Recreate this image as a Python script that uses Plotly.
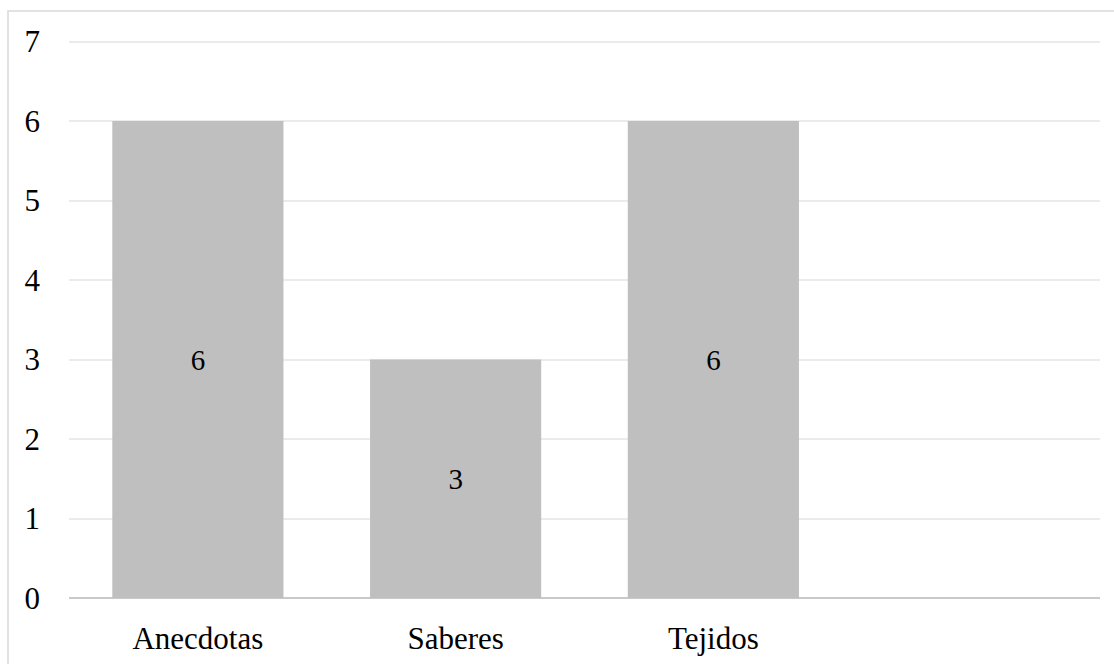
import plotly.graph_objects as go

# Chart data
categories = ["Anecdotas", "Saberes", "Tejidos", ""]
values = [6, 3, 6, None]
y_ticks = [0, 1, 2, 3, 4, 5, 6, 7]

positions = list(range(len(categories)))
labels = [("" if v is None else str(v)) for v in values]

FONT = '"Liberation Serif", "Times New Roman", serif'

fig = go.Figure(
    go.Bar(
        x=positions,
        y=values,
        text=labels,
        textposition="inside",
        insidetextanchor="middle",
        textangle=0,
        textfont=dict(family=FONT, size=29, color="#000000"),
        marker=dict(color="#bfbfbf", line=dict(width=0)),
        width=0.664,
        hoverinfo="skip",
    )
)

fig.update_layout(
    width=1114,
    height=664,
    margin=dict(l=69, r=14, t=40, b=66),
    paper_bgcolor="#ffffff",
    plot_bgcolor="#ffffff",
    showlegend=False,
    font=dict(family=FONT, size=31, color="#000000"),
    uniformtext=dict(minsize=10, mode="show"),
    xaxis=dict(
        range=[-0.5, len(categories) - 0.5],
        tickmode="array",
        tickvals=positions,
        ticktext=categories,
        showgrid=False,
        zeroline=False,
        showline=False,
        ticks="",
        ticklabelstandoff=19,
        tickfont=dict(family=FONT, size=31, color="#000000"),
        automargin=False,
        fixedrange=True,
    ),
    yaxis=dict(
        range=[0, 7.02],
        tickmode="array",
        tickvals=y_ticks,
        ticktext=[str(t) for t in y_ticks],
        showgrid=True,
        gridcolor="#ebebeb",
        gridwidth=1.5,
        zeroline=True,
        zerolinecolor="#c9c9c9",
        zerolinewidth=2,
        showline=False,
        ticks="",
        ticklabelstandoff=28,
        tickfont=dict(family=FONT, size=31, color="#000000"),
        automargin=False,
        fixedrange=True,
    ),
    shapes=[
        dict(
            type="rect",
            xref="paper",
            yref="paper",
            x0=(8 - 69) / 1031,
            x1=(1125 - 69) / 1031,
            y0=-(675 - 598) / 558,
            y1=1 + (40 - 11) / 558,
            line=dict(color="#d9d9d9", width=1.5),
            fillcolor="rgba(0,0,0,0)",
            layer="below",
        )
    ],
)

fig.write_html("out.html")
